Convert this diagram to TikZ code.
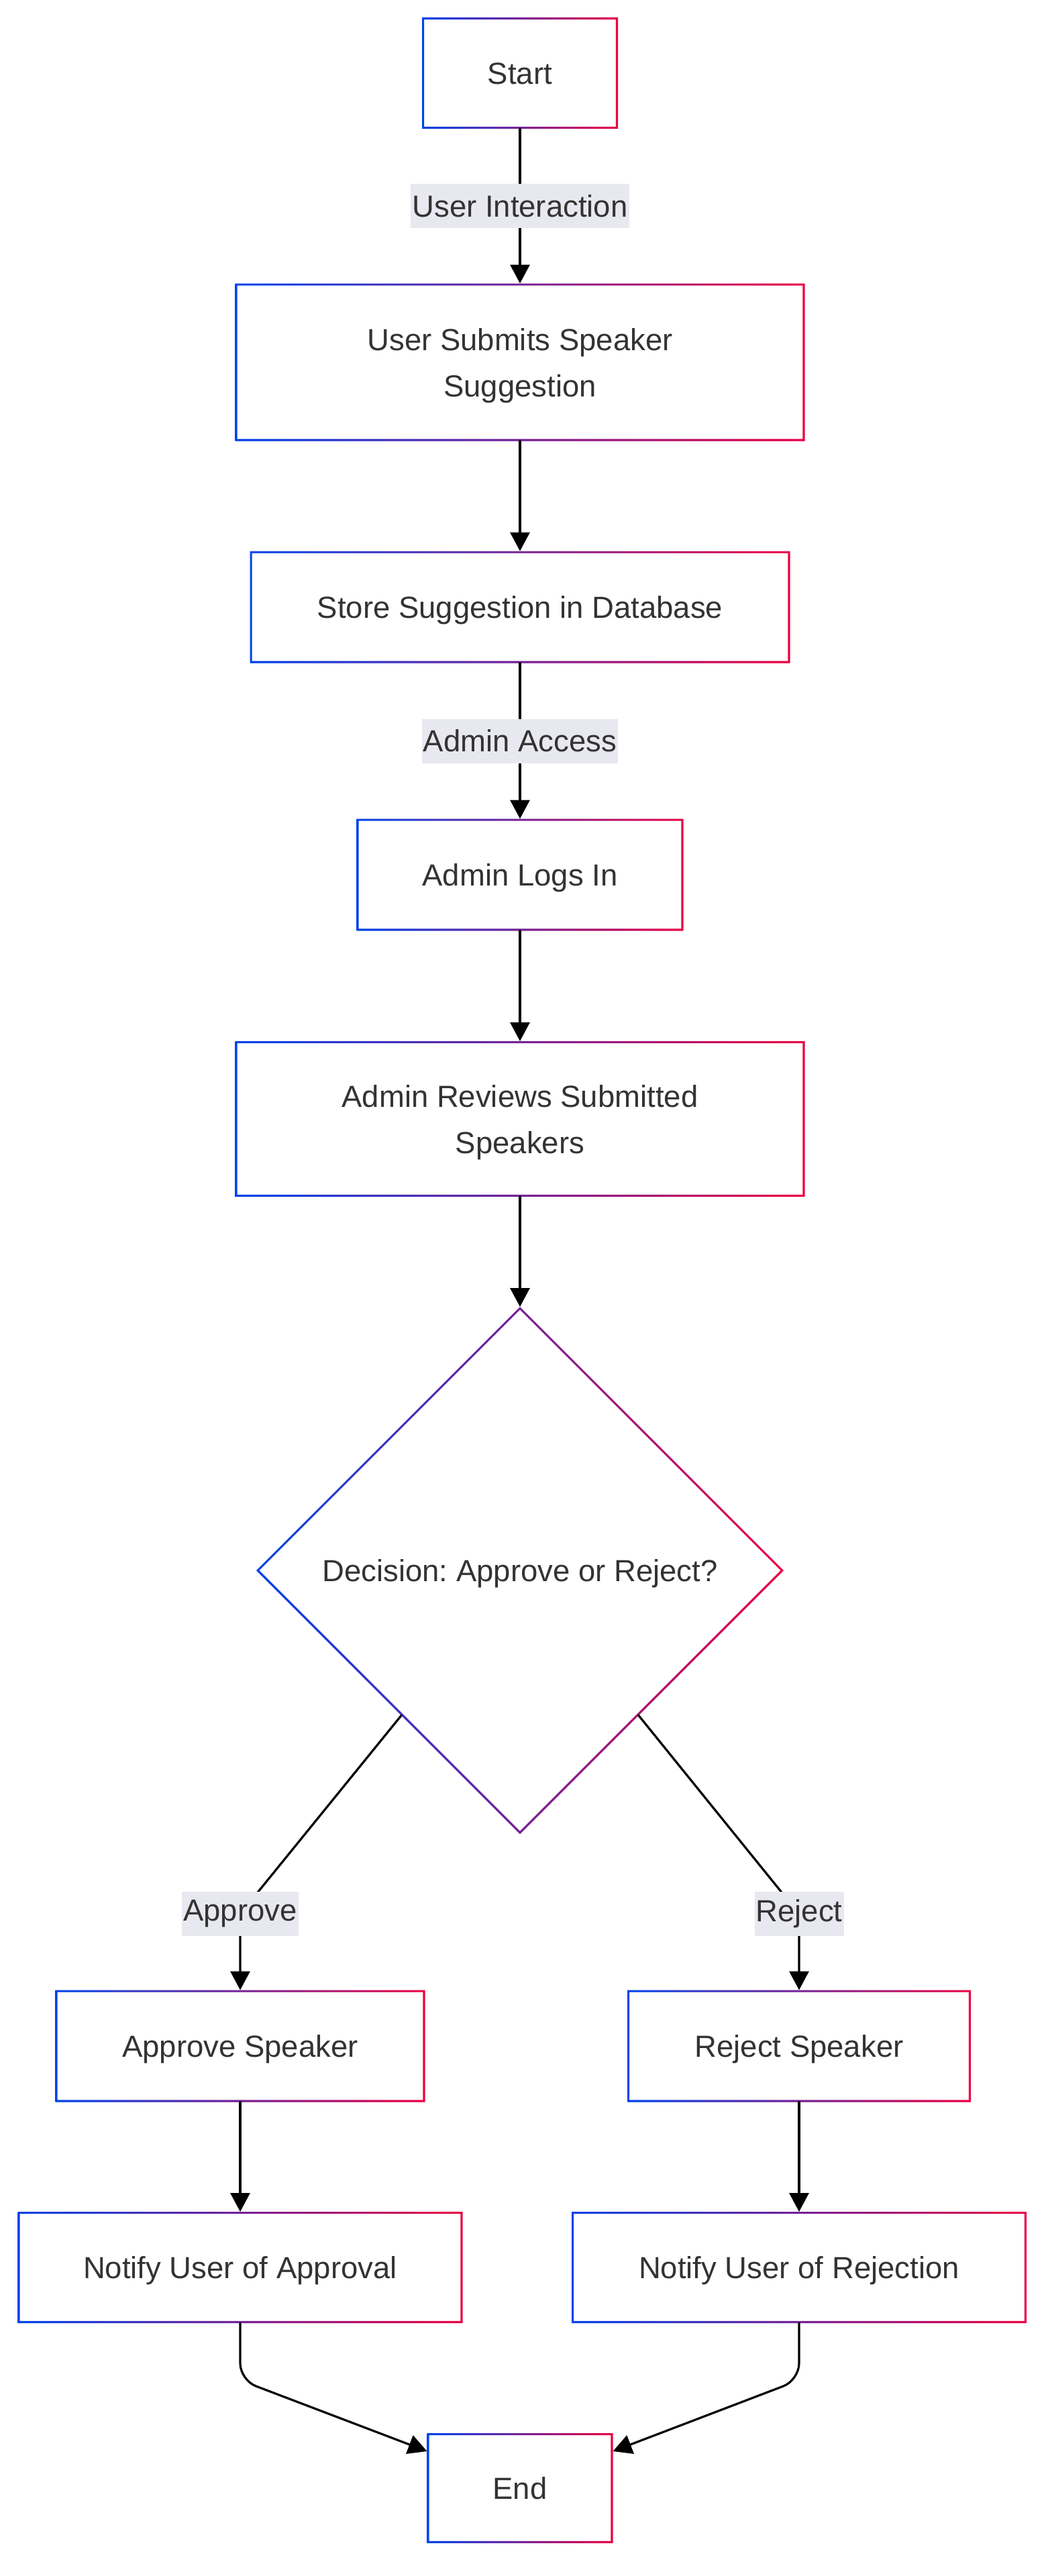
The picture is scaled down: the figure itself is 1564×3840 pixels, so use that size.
\documentclass[tikz,border=0pt]{standalone}
\usepackage{fontspec}
\setmainfont{Liberation Sans}
\usepackage{tikz}
\usetikzlibrary{arrows.meta}
\usetikzlibrary{shapes,calc}
\frenchspacing
\definecolor{flowblue}{HTML}{0042EB}
\definecolor{flowred}{HTML}{EB0042}
\definecolor{flowtext}{HTML}{333333}
\definecolor{labelbg}{HTML}{E8E8F0}
\tikzset{>={Triangle[length=28pt,width=29pt]},
  stepbox/.style={rectangle,inner sep=0pt,outer sep=0pt,align=center,
    text height=40pt,text depth=7pt,
    text=flowtext,font=\fontsize{45.5}{69}\selectfont},
  twoline/.style={text height=109pt},
  edgelabel/.style={fill=labelbg,text=flowtext,inner xsep=2pt,inner ysep=0pt,
    minimum height=66pt,font=\fontsize{45.5}{53}\selectfont},
  link/.style={line width=3.2pt,black}}
\newcommand{\gradbox}[1]{%
  \shade [left color=flowblue,right color=flowred,even odd rule]
    (#1.south west) rectangle (#1.north east)
    ([shift={(3.2pt,3.2pt)}]#1.south west) rectangle ([shift={(-3.2pt,-3.2pt)}]#1.north east);}
\newcommand{\graddiamond}[1]{%
  \shade [left color=flowblue,right color=flowred,even odd rule]
    (#1.north) -- (#1.east) -- (#1.south) -- (#1.west) -- cycle
    ([yshift=-4.4pt]#1.north) -- ([xshift=-4.4pt]#1.east) -- ([yshift=4.4pt]#1.south) -- ([xshift=4.4pt]#1.west) -- cycle;}

\begin{document}
\begin{tikzpicture}[x=1pt,y=-1pt,line cap=round]

  \fill [white] (0,0) rectangle (1564,3840);
  \useasboundingbox (0,0) rectangle (1564,3840);

  % steps
  \node [stepbox,minimum width=292,minimum height=166] (start) at (775,109) {Start};
  \node [stepbox,twoline,minimum width=849,minimum height=235] (submit) at (775,540) {User Submits Speaker\\Suggestion};
  \node [stepbox,minimum width=805,minimum height=167] (store) at (775,905) {Store Suggestion in Database};
  \node [stepbox,minimum width=487,minimum height=167] (login) at (775,1304) {Admin Logs In};
  \node [stepbox,twoline,minimum width=849,minimum height=232] (review) at (775,1668) {Admin Reviews Submitted\\Speakers};
  \node [stepbox,shape=diamond,minimum width=786,minimum height=786] (decide) at (775,2341) {Decision: Approve or Reject?};
  \node [stepbox,minimum width=551,minimum height=167] (approve) at (358,3050) {Approve Speaker};
  \node [stepbox,minimum width=512,minimum height=167] (reject) at (1191,3050) {Reject Speaker};
  \node [stepbox,minimum width=663,minimum height=166] (tellyes) at (358,3380) {Notify User of Approval};
  \node [stepbox,minimum width=678,minimum height=166] (tellno) at (1191,3380) {Notify User of Rejection};
  \node [stepbox,minimum width=277,minimum height=164] (end) at (775,3709) {End};

  \gradbox{start}
  \gradbox{submit}
  \gradbox{store}
  \gradbox{login}
  \gradbox{review}
  \graddiamond{decide}
  \gradbox{approve}
  \gradbox{reject}
  \gradbox{tellyes}
  \gradbox{tellno}
  \gradbox{end}

  % links
  \draw [link,->] (start) -- (submit) node [midway,edgelabel] (userlbl) {User Interaction};
  \draw [link,->] (submit) -- (store);
  \draw [link,->] (store) -- (login) node [midway,edgelabel] (adminlbl) {Admin Access};
  \draw [link,->] (login) -- (review);
  \draw [link,->] (review) -- (decide);

  \coordinate (yesturn) at (358,2853);
  \coordinate (noturn) at (1191,2853);
  \draw [link,->] ($(decide.west)!0.55!(decide.south)$) -- (yesturn) -- (approve);
  \draw [link,->] ($(decide.east)!0.55!(decide.south)$) -- (noturn) -- (reject);
  \node [edgelabel] (yeslbl) at (yesturn) {Approve};
  \node [edgelabel] (nolbl) at (noturn) {Reject};

  \draw [link,->] (approve) -- (tellyes);
  \draw [link,->] (reject) -- (tellno);

  \coordinate (yesbend) at (358,3548);
  \coordinate (nobend) at (1191,3548);
  \draw [link,->,rounded corners=25] (tellyes) -- (yesbend) -- ([yshift=-27pt]end.north west);
  \draw [link,->,rounded corners=25] (tellno) -- (nobend) -- ([yshift=-27pt]end.north east);

\end{tikzpicture}
\end{document}
